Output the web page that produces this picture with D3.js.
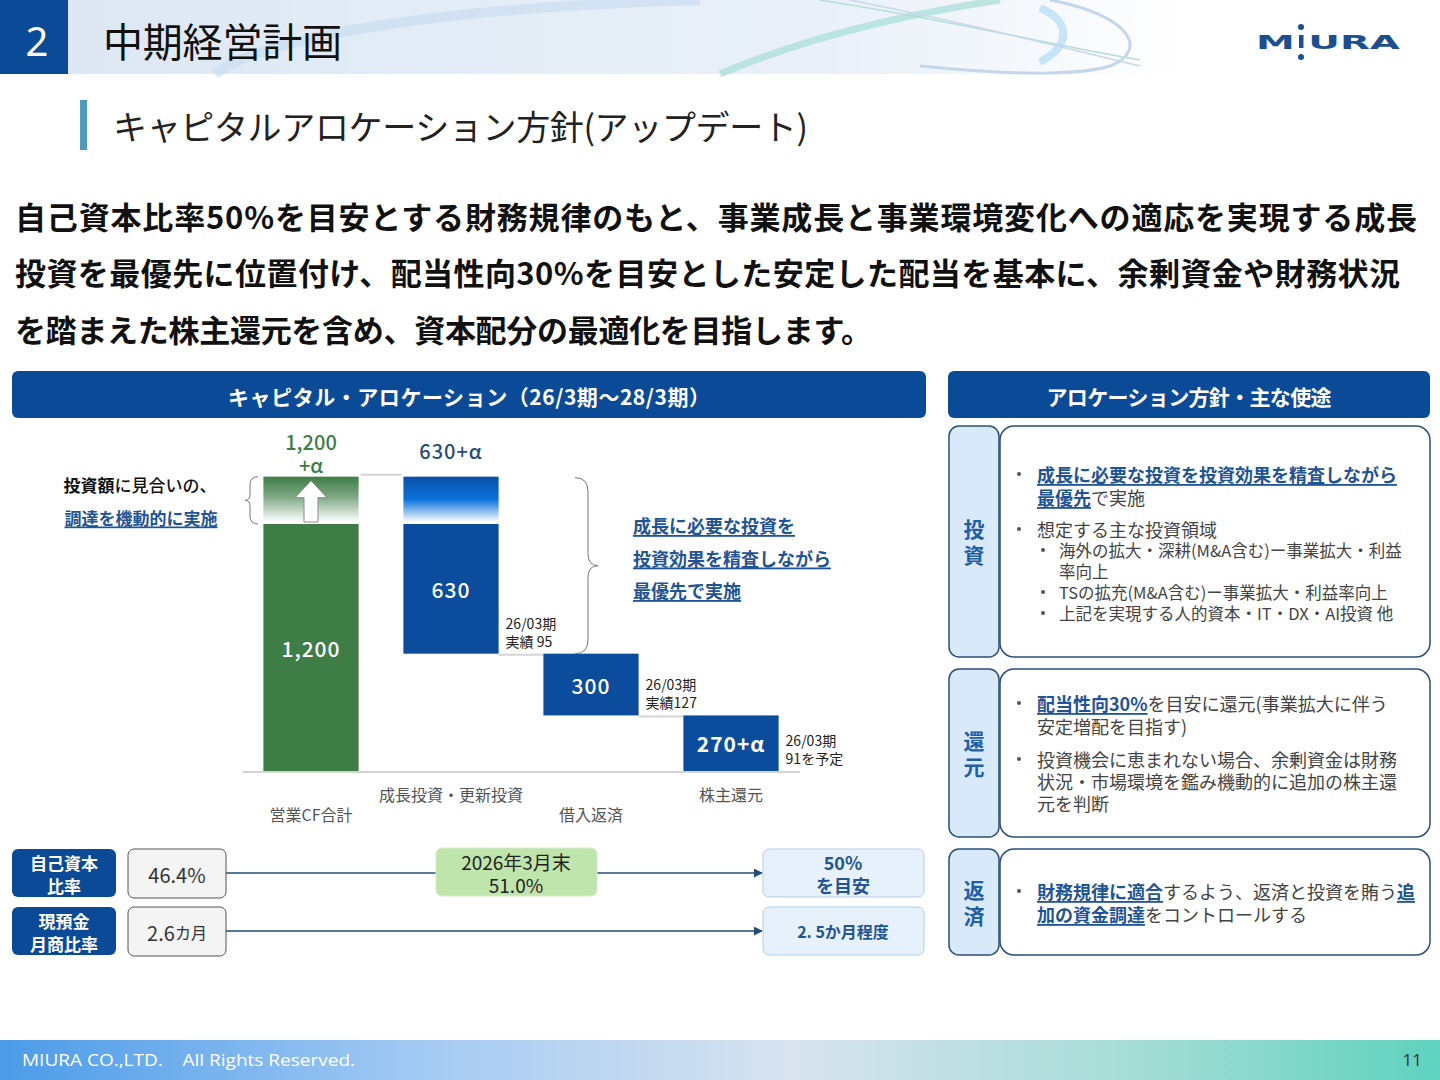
<!DOCTYPE html>
<html><head><meta charset="utf-8">
<script src="https://cdn.jsdelivr.net/npm/d3@7"></script>
<style>
html,body{margin:0;padding:0;background:#fff;}
svg{display:block;font-family:"Noto Sans CJK JP","Noto Sans",sans-serif;}
</style></head><body>
<svg id="c" width="1440" height="1080"></svg>
<script>
// ---------- data ----------
const categories = ["営業CF合計", "成長投資・更新投資", "借入返済", "株主還元"];
const values = [1200, 630, 300, 270];
const alphaExtent = 230;               // visual extent of "+α"
const valueLabels = ["1,200", "630", "300", "270+α"];
const topLabels = [["1,200", "+α"], ["630+α"], null, null];
const notes = [null, ["26/03期", "実績 95"], ["26/03期", "実績127"], ["26/03期", "91を予定"]];

const metricNames = [["自己資本", "比率"], ["現預金", "月商比率"]];
const metricNow = [["46.4%", ""], ["2.6", "カ月"]];
const milestone = ["2026年3月末", "51.0%"];
const metricTarget = [["50%", "を目安"], ["2. 5か月程度"]];

const paragraph = [
  "自己資本比率50%を目安とする財務規律のもと、事業成長と事業環境変化への適応を実現する成長",
  "投資を最優先に位置付け、配当性向30%を目安とした安定した配当を基本に、余剰資金や財務状況",
  "を踏まえた株主還元を含め、資本配分の最適化を目指します。"
];

const sectionLabels = [["投", "資"], ["還", "元"], ["返", "済"]];
const sectionLines = [
  [
    {b: 1, s: [["成長に必要な投資を投資効果を精査しながら", 1]]},
    {s: [["最優先", 1], ["で実施", 0]]},
    {b: 1, s: [["想定する主な投資領域", 0]]},
    {b: 2, s: [["海外の拡大・深耕(M&A含む)ー事業拡大・利益", 0]]},
    {sub: 1, s: [["率向上", 0]]},
    {b: 2, s: [["TSの拡充(M&A含む)ー事業拡大・利益率向上", 0]]},
    {b: 2, s: [["上記を実現する人的資本・IT・DX・AI投資 他", 0]]}
  ],
  [
    {b: 1, s: [["配当性向30%", 1], ["を目安に還元(事業拡大に伴う", 0]]},
    {s: [["安定増配を目指す)", 0]]},
    {b: 1, s: [["投資機会に恵まれない場合、余剰資金は財務", 0]]},
    {s: [["状況・市場環境を鑑み機動的に追加の株主還", 0]]},
    {s: [["元を判断", 0]]}
  ],
  [
    {b: 1, s: [["財務規律に適合", 1], ["するよう、返済と投資を賄う", 0], ["追", 1]]},
    {s: [["加の資金調達", 1], ["をコントロールする", 0]]}
  ]
];

// ---------- layout ----------
const svg = d3.select("#c");
const defs = svg.append("defs");
const NAVY = "#0b4a96", GREEN = "#3e7d46", BLUE = "#0b4c9d", HL = "#1f5496";

function lg(id, stops, x2 = 1, y2 = 0) {
  const g = defs.append("linearGradient").attr("id", id)
    .attr("x1", 0).attr("y1", 0).attr("x2", x2).attr("y2", y2);
  stops.forEach(([o, c]) => g.append("stop").attr("offset", o).attr("stop-color", c));
}
lg("hdr", [[0, "#dde8f4"], [0.55, "#e9f0f8"], [0.82, "#ffffff"], [1, "#ffffff"]]);
lg("foot", [[0, "#4c9be8"], [0.3, "#a5cbf3"], [0.55, "#d8e3ef"], [0.8, "#a2dcd5"], [1, "#5ed2bd"]]);
lg("gAlpha", [[0, "#3e7d46"], [0.45, "#7fa986"], [1, "#ffffff"]], 0, 1);
lg("bAlpha", [[0, "#0b4fa6"], [0.5, "#0a72dc"], [1, "#ffffff"]], 0, 1);
defs.append("marker").attr("id", "arr").attr("viewBox", "0 0 10 10").attr("refX", 9).attr("refY", 5)
  .attr("markerWidth", 6).attr("markerHeight", 6).attr("orient", "auto")
  .append("path").attr("d", "M0,0 L10,5 L0,10 Z").attr("fill", "#1f4e79");

// header
svg.append("rect").attr("x", 68).attr("y", 0).attr("width", 1372).attr("height", 74).attr("fill", "url(#hdr)");
const sw = svg.append("g").attr("fill", "none");
sw.append("path").attr("d", "M215,74 C260,40 420,8 700,0").attr("stroke", "#c9ddef").attr("stroke-width", 10).attr("opacity", 0.7);
sw.append("path").attr("d", "M720,74 C800,40 900,15 1000,0").attr("stroke", "#a5ded6").attr("stroke-width", 7).attr("opacity", 0.7);
sw.append("path").attr("d", "M820,0 C950,20 1050,45 1140,60").attr("stroke", "#b7dcd8").attr("stroke-width", 1.5);
sw.append("path").attr("d", "M850,0 C1000,30 1080,52 1140,66").attr("stroke", "#c6d8ea").attr("stroke-width", 1.5);
sw.append("path").attr("d", "M1050,0 C1130,15 1150,50 1110,66 C1070,78 980,72 920,66").attr("stroke", "#c5d6ec").attr("stroke-width", 3);
sw.append("path").attr("d", "M1040,8 C1070,20 1072,45 1040,62").attr("stroke", "#b3dcf4").attr("stroke-width", 8).attr("opacity", 0.7);
svg.append("rect").attr("x", 0).attr("y", 0).attr("width", 68).attr("height", 74).attr("fill", NAVY);
svg.append("text").attr("x", 37).attr("y", 40).attr("text-anchor", "middle").attr("dominant-baseline", "central")
  .attr("fill", "#fff").attr("font-size", 40).attr("font-family", "Noto Sans").text("2");
svg.append("text").attr("x", 103).attr("y", 40).attr("dominant-baseline", "central").attr("font-size", 40)
  .attr("fill", "#111").attr("textLength", 239).text("中期経営計画");
// logo
svg.append("text").attr("x", 1256).attr("y", 42).attr("dominant-baseline", "central").attr("font-size", 19)
  .attr("font-weight", 900).attr("font-family", "DejaVu Sans").attr("fill", "#1b4f8f")
  .attr("textLength", 144).attr("lengthAdjust", "spacingAndGlyphs").text("M URA");
svg.append("rect").attr("x", 1299).attr("y", 35).attr("width", 4.5).attr("height", 13).attr("fill", "#1b4f8f");
svg.append("circle").attr("cx", 1301).attr("cy", 27).attr("r", 3).attr("fill", "#1b4f8f");
svg.append("circle").attr("cx", 1301).attr("cy", 57).attr("r", 3).attr("fill", "#1b4f8f");

// subtitle
svg.append("rect").attr("x", 80).attr("y", 100).attr("width", 7).attr("height", 50).attr("fill", "#4c9bbd");
svg.append("text").attr("x", 113).attr("y", 125).attr("dominant-baseline", "central").attr("font-size", 34)
  .attr("fill", "#222").attr("textLength", 695).text("キャピタルアロケーション方針(アップデート)");

// paragraph
const pLen = [1402, 1385, 857];
svg.append("g").selectAll("text").data(paragraph).join("text")
  .attr("x", 15).attr("y", (d, i) => 215 + i * 56.5).attr("dominant-baseline", "central")
  .attr("font-size", 31).attr("font-weight", 700).attr("fill", "#111")
  .attr("textLength", (d, i) => pLen[i]).attr("lengthAdjust", "spacing").text(d => d);

// panel headers
[[12, 914, "キャピタル・アロケーション（26/3期～28/3期）", 482], [948, 482, "アロケーション方針・主な使途", 285]].forEach(([x0, w, t, tl]) => {
  svg.append("rect").attr("x", x0).attr("y", 371).attr("width", w).attr("height", 47).attr("rx", 6).attr("fill", NAVY);
  svg.append("text").attr("x", x0 + w / 2).attr("y", 396).attr("text-anchor", "middle").attr("dominant-baseline", "central")
    .attr("fill", "#fff").attr("font-size", 21).attr("font-weight", 700).attr("textLength", tl).text(t);
});

// ---------- waterfall ----------
const x = d3.scaleBand().domain(categories).range([241, 801]).paddingInner(0.32).paddingOuter(0.16);
const y = d3.scaleLinear().domain([0, 1200]).range([771, 524]);
const bw = x.bandwidth();
let cum = 0;
const bars = values.map((v, i) => {
  let top, bot;
  if (i === 0) { top = v; bot = 0; cum = v; } else { top = cum; bot = cum - v; cum = bot; }
  return {cat: categories[i], v, top, bot, i};
});
const wf = svg.append("g");
// gridlines
wf.append("line").attr("x1", 243).attr("x2", 800).attr("y1", y(0) + 1).attr("y2", y(0) + 1).attr("stroke", "#d4d4d4").attr("stroke-width", 2);
wf.append("line").attr("x1", x(categories[0]) + bw + 2).attr("x2", x(categories[1]) - 2)
  .attr("y1", y(1200 + alphaExtent) - 2).attr("y2", y(1200 + alphaExtent) - 2).attr("stroke", "#d4d4d4").attr("stroke-width", 2);
bars.slice(1, 3).forEach(b => {
  wf.append("line").attr("x1", x(b.cat) + bw).attr("x2", x(categories[b.i + 1])).attr("y1", y(b.bot) + 1).attr("y2", y(b.bot) + 1)
    .attr("stroke", "#d4d4d4").attr("stroke-width", 2);
});
// alpha gradient parts
[0, 1].forEach(i => {
  wf.append("rect").attr("x", x(categories[i])).attr("y", y(values[0] + alphaExtent))
    .attr("width", bw).attr("height", y(values[0]) - y(values[0] + alphaExtent) - 2)
    .attr("fill", i === 0 ? "url(#gAlpha)" : "url(#bAlpha)");
});
// bars
wf.selectAll("rect.bar").data(bars).join("rect").attr("class", "bar")
  .attr("x", d => x(d.cat)).attr("y", d => y(d.top)).attr("width", bw).attr("height", d => y(d.bot) - y(d.top))
  .attr("fill", d => d.i === 0 ? GREEN : BLUE);
// up arrow
{
  const cx = x(categories[0]) + bw / 2, t = y(1200 + alphaExtent) + 4, b = y(1200) - 2;
  wf.append("path").attr("d", `M${cx},${t} L${cx + 16},${t + 17} L${cx + 7},${t + 17} L${cx + 7},${b} L${cx - 7},${b} L${cx - 7},${t + 17} L${cx - 16},${t + 17} Z`)
    .attr("fill", "#fff").attr("stroke", "#8a8a8a").attr("stroke-width", 1);
}
// value labels inside
wf.selectAll("text.val").data(bars).join("text").attr("class", "val")
  .attr("x", d => x(d.cat) + bw / 2).attr("y", d => (y(d.top) + y(d.bot)) / 2)
  .attr("text-anchor", "middle").attr("dominant-baseline", "central").attr("fill", "#fff")
  .attr("font-size", 21).attr("font-weight", d => d.i === 3 ? 700 : 500).attr("letter-spacing", 1)
  .text((d, i) => valueLabels[i]);
// top labels
topLabels.forEach((lab, i) => {
  if (!lab) return;
  const cx = x(categories[i]) + bw / 2, t = y(values[0] + alphaExtent);
  if (lab.length === 2) {
    wf.append("text").attr("x", cx).attr("y", t - 35).attr("text-anchor", "middle").attr("dominant-baseline", "central")
      .attr("font-size", 20).attr("fill", GREEN).attr("font-weight", 500).text(lab[0]);
    wf.append("text").attr("x", cx).attr("y", t - 12).attr("text-anchor", "middle").attr("dominant-baseline", "central")
      .attr("font-size", 20).attr("fill", GREEN).attr("font-weight", 500).text(lab[1]);
  } else {
    wf.append("text").attr("x", cx).attr("y", t - 26).attr("text-anchor", "middle").attr("dominant-baseline", "central")
      .attr("font-size", 20).attr("fill", "#1f4e79").attr("font-weight", 500).attr("letter-spacing", 1).text(lab[0]);
  }
});
// notes
bars.forEach(b => {
  const n = notes[b.i];
  if (!n) return;
  const xr = x(b.cat) + bw, yb = y(b.bot);
  wf.append("rect").attr("x", xr + 3).attr("y", yb - 42).attr("width", 66).attr("height", 41).attr("fill", "#fff");
  n.forEach((t, k) => wf.append("text").attr("x", xr + 7).attr("y", yb - 31 + k * 18).attr("dominant-baseline", "central")
    .attr("font-size", 14).attr("fill", "#222").text(t));
});
// category labels
wf.selectAll("text.cat").data(categories).join("text").attr("class", "cat")
  .attr("x", d => x(d) + bw / 2).attr("y", (d, i) => i % 2 === 0 ? 814 : 794)
  .attr("text-anchor", "middle").attr("dominant-baseline", "central").attr("font-size", 16).attr("fill", "#555").text(d => d);
// braces
{
  const t = y(1200 + alphaExtent), b = y(1200), m = (t + b) / 2;
  wf.append("path").attr("d", `M258,${t} Q250,${t} 250,${t + 8} L250,${m - 6} Q250,${m} 245,${m} Q250,${m} 250,${m + 6} L250,${b - 8} Q250,${b} 258,${b}`)
    .attr("fill", "none").attr("stroke", "#777").attr("stroke-width", 1);
  const t2 = t + 1, b2 = y(bars[1].bot), m2 = (t2 + b2) / 2;
  wf.append("path").attr("d", `M575,${t2} Q588,${t2} 588,${t2 + 14} L588,${m2 - 12} Q588,${m2} 598,${m2} Q588,${m2} 588,${m2 + 12} L588,${b2 - 14} Q588,${b2} 575,${b2}`)
    .attr("fill", "none").attr("stroke", "#777").attr("stroke-width", 1);
}
// side texts
svg.append("text").attr("x", 140).attr("y", 484).attr("text-anchor", "middle").attr("dominant-baseline", "central")
  .attr("font-size", 17).attr("fill", "#111").call(t => {
    t.append("tspan").attr("font-weight", 700).text("投資額");
    t.append("tspan").attr("font-weight", 500).text("に見合いの、");
  });
svg.append("text").attr("x", 141).attr("y", 517).attr("text-anchor", "middle").attr("dominant-baseline", "central")
  .attr("font-size", 17).attr("font-weight", 700).attr("fill", HL).attr("text-decoration", "underline").text("調達を機動的に実施");
["成長に必要な投資を", "投資効果を精査しながら", "最優先で実施"].forEach((t, i) => {
  svg.append("text").attr("x", 633).attr("y", 525 + i * 32.5).attr("dominant-baseline", "central")
    .attr("font-size", 18).attr("font-weight", 700).attr("fill", HL).attr("text-decoration", "underline").text(t);
});

// ---------- metric rows ----------
const rowY = [873, 931];
metricNames.forEach((nm, r) => {
  const cy = rowY[r], g = svg.append("g");
  g.append("line").attr("x1", 226).attr("x2", 762).attr("y1", cy).attr("y2", cy).attr("stroke", "#1f4e79").attr("stroke-width", 1.5).attr("marker-end", "url(#arr)");
  g.append("rect").attr("x", 12).attr("y", cy - 24).attr("width", 104).attr("height", 48).attr("rx", 6).attr("fill", NAVY);
  nm.forEach((t, k) => g.append("text").attr("x", 64).attr("y", cy - 11 + k * 23).attr("text-anchor", "middle").attr("dominant-baseline", "central")
    .attr("fill", "#fff").attr("font-size", 17).attr("font-weight", 700).text(t));
  g.append("rect").attr("x", 128).attr("y", cy - 24).attr("width", 98).attr("height", 49).attr("rx", 6).attr("fill", "#f4f4f4").attr("stroke", "#555").attr("stroke-width", 1);
  const tn = g.append("text").attr("x", 177).attr("y", cy + 1).attr("text-anchor", "middle").attr("dominant-baseline", "central").attr("fill", "#333").attr("font-size", 20);
  tn.append("tspan").text(metricNow[r][0]);
  tn.append("tspan").attr("font-size", 16).text(metricNow[r][1]);
  g.append("rect").attr("x", 763).attr("y", cy - 24).attr("width", 161).attr("height", 48).attr("rx", 6).attr("fill", "#e6f1fb").attr("stroke", "#b3cfe9");
  const tg = metricTarget[r];
  tg.forEach((t, k) => g.append("text").attr("x", 843).attr("y", tg.length === 2 ? cy - 11 + k * 23 : cy).attr("text-anchor", "middle").attr("dominant-baseline", "central")
    .attr("fill", HL).attr("font-size", tg.length === 2 ? 18 : 16).attr("font-weight", 700).text(t));
  if (r === 0) {
    g.append("rect").attr("x", 436).attr("y", cy - 25).attr("width", 161).attr("height", 48).attr("rx", 6).attr("fill", "#bfe5ad").attr("stroke", "#d5ecc9");
    milestone.forEach((t, k) => g.append("text").attr("x", 516).attr("y", cy - 12 + k * 23).attr("text-anchor", "middle").attr("dominant-baseline", "central")
      .attr("fill", "#222").attr("font-size", 19).text(t));
  }
});

// ---------- right panel ----------
const secBox = [[426, 657], [669, 837], [849, 955]];
const secLineY = [[474, 497, 529, 550, 571, 592, 613], [703, 726, 759, 781, 803], [891, 914]];
secBox.forEach(([y0, y1], s) => {
  const g = svg.append("g");
  g.append("rect").attr("x", 949).attr("y", y0).attr("width", 50).attr("height", y1 - y0).attr("rx", 10).attr("fill", "#d8e9fa").attr("stroke", "#2a4f7a").attr("stroke-width", 1.5);
  g.append("rect").attr("x", 1000).attr("y", y0).attr("width", 430).attr("height", y1 - y0).attr("rx", 14).attr("fill", "#fff").attr("stroke", "#2a4f7a").attr("stroke-width", 1.5);
  const mid = (y0 + y1) / 2 + (s === 0 ? -1 : 0);
  sectionLabels[s].forEach((t, k) => g.append("text").attr("x", 974).attr("y", mid - 13 + k * 26).attr("text-anchor", "middle").attr("dominant-baseline", "central")
    .attr("fill", "#1f5fa8").attr("font-size", 21).attr("font-weight", 700).text(t));
  sectionLines[s].forEach((ln, k) => {
    const yy = secLineY[s][k];
    const small = ln.b === 2 || ln.sub;
    const tx = small ? 1059 : 1037;
    if (ln.b) g.append("circle").attr("cx", ln.b === 2 ? 1043 : 1019).attr("cy", yy).attr("r", 2).attr("fill", "#555");
    const t = g.append("text").attr("x", tx).attr("y", yy).attr("dominant-baseline", "central").attr("font-size", small ? 16.5 : 18).attr("fill", "#444");
    ln.s.forEach(([str, h]) => {
      const sp = t.append("tspan").text(str);
      if (h) sp.attr("fill", HL).attr("font-weight", 700).attr("text-decoration", "underline");
    });
  });
});

// ---------- footer ----------
svg.append("rect").attr("x", 0).attr("y", 1040).attr("width", 1440).attr("height", 40).attr("fill", "url(#foot)");
svg.append("text").attr("x", 22).attr("y", 1059).attr("dominant-baseline", "central").attr("font-family", "Open Sans")
  .attr("font-size", 17).attr("fill", "#fff").attr("textLength", 333).attr("lengthAdjust", "spacingAndGlyphs")
  .attr("xml:space", "preserve").text("MIURA CO.,LTD.    All Rights Reserved.");
svg.append("text").attr("x", 1422).attr("y", 1059).attr("text-anchor", "end").attr("dominant-baseline", "central")
  .attr("font-family", "Open Sans").attr("font-size", 17).attr("fill", "#333").text("11");
</script>
</body></html>
